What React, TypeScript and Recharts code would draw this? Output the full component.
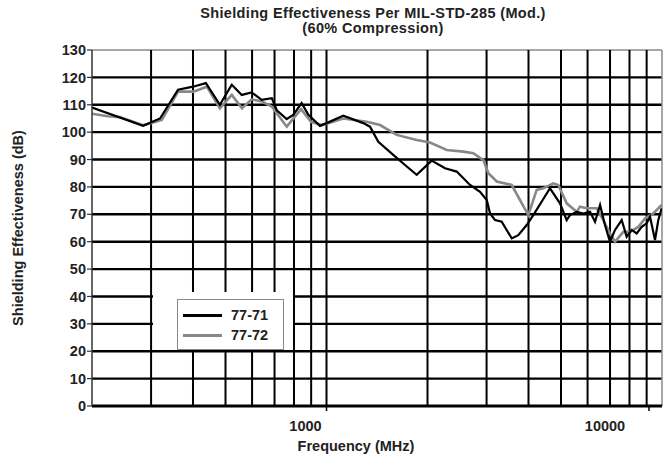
import React from 'react';
import { LineChart, Line, XAxis, YAxis, Legend, ReferenceLine } from 'recharts';

const freq7171 = [200, 284, 319, 361, 400, 437, 481, 522, 559, 598, 641, 687, 711, 761, 796, 843, 883, 956, 1001, 1122, 1287, 1348, 1427, 1581, 1714, 1857, 2058, 2256, 2444, 2678, 2868, 3004, 3073, 3180, 3329, 3565, 3730, 3951, 4134, 4636, 4965, 5198, 5318, 5569, 5829, 6102, 6315, 6537, 6761, 6998, 7244, 7584, 7848, 8121, 8405, 8699, 9003, 9211, 9531, 9750, 9977];
const se7171 = [109, 102.3, 105, 115.5, 116.6, 117.9, 110, 117.3, 113.6, 114.5, 111.8, 112.4, 108, 104.8, 106.3, 110.6, 106.3, 102.3, 103.3, 106, 103.3, 102, 96.5, 91.7, 88, 84.4, 89.6, 86.8, 85.6, 80.7, 78.2, 75.2, 70.3, 67.9, 67.3, 61.2, 62.4, 66.1, 69.7, 79.5, 74, 67.9, 69.7, 70.9, 70.3, 70.9, 67.3, 73.4, 66.1, 60, 64.3, 67.9, 61.8, 64.3, 63, 65.4, 66.7, 69.1, 60.6, 67.9, 72.2];

const freq7172 = [200, 223, 242, 284, 323, 361, 401, 440, 481, 522, 560, 598, 642, 688, 761, 840, 899, 970, 1122, 1318, 1444, 1619, 1857, 2035, 2282, 2558, 2739, 2934, 3037, 3217, 3565, 3995, 4232, 4428, 4743, 4908, 5198, 5569, 5696, 5966, 6388, 6683, 6998, 7244, 7668, 8028, 8499, 8900, 9420, 9977];
const se7172 = [106.7, 105.8, 105.5, 102.5, 104.5, 114.8, 114.8, 116.6, 108.7, 113.6, 108.7, 112, 111.2, 109.3, 102, 108.4, 103.8, 102.6, 105, 103.8, 102.6, 99, 97.1, 96.2, 93.5, 92.9, 92.3, 89.8, 85, 82, 80.7, 69.7, 78.9, 79.5, 81.3, 80.7, 74, 70.9, 72.8, 72.2, 72.2, 67.9, 63, 60, 63.6, 63.6, 65.4, 68.5, 70.3, 73.4];

const yTicks = [0, 10, 20, 30, 40, 50, 60, 70, 80, 90, 100, 110, 120, 130];
const xGridValues = [300, 400, 500, 600, 700, 800, 900, 1000, 2000, 3000, 4000, 5000, 6000, 7000, 8000, 9000];
const xLabelTicks = [1000, 10000];

const data71 = freq7171.map((f, i) => ({ f, v: se7171[i] }));
const data72 = freq7172.map((f, i) => ({ f, v: se7172[i] }));

const FONT = '"Liberation Sans", Arial, sans-serif';
const labelShift: Record<number, number> = { 1000: -21, 10000: -44 };

const XTick = (props: any) => {
  const { x, y, payload } = props;
  const shift = labelShift[payload.value] ?? 0;
  return (
    <g>
      <line x1={x} x2={x} y1={y} y2={y + 5} stroke="#000" strokeWidth={1.5} />
      <text x={x + shift} y={y + 25} textAnchor="middle" fontFamily={FONT} fontWeight="bold" fontSize={14.5} fill="#222">
        {payload.value}
      </text>
    </g>
  );
};

const YLabel = (props: any) => {
  const vb = props.viewBox;
  const cx = vb.x + 18;
  const cy = vb.y + vb.height / 2;
  return (
    <text x={cx} y={cy} transform={`rotate(-90 ${cx} ${cy})`} textAnchor="middle" dominantBaseline="central" fontFamily={FONT} fontWeight="bold" fontSize={14.5} fill="#222">
      Shielding Effectiveness (dB)
    </text>
  );
};

const XLabel = (props: any) => {
  const vb = props.viewBox;
  return (
    <text x={vb.x + vb.width / 2 - 21} y={vb.y + 45} textAnchor="middle" fontFamily={FONT} fontWeight="bold" fontSize={14.5} fill="#222">
      Frequency (MHz)
    </text>
  );
};

const renderLegend = (props: any) => {
  const payload = [...(props.payload || [])].sort((a: any, b: any) => String(a.value).localeCompare(String(b.value)));
  return (
    <div style={{ width: 140, height: 58, background: '#fff', position: 'relative' }}>
      <div style={{ position: 'absolute', left: 24, top: 7, width: 107, height: 51, border: '1px solid #888', boxSizing: 'border-box', background: '#fff' }}>
        {payload.map((p: any, i: number) => (
          <div key={p.value} style={{ position: 'absolute', left: 5, top: 6 + i * 20, height: 18, display: 'flex', alignItems: 'center' }}>
            <div style={{ width: 39, height: 0, borderTop: `3.5px solid ${p.color}` }} />
            <span style={{ marginLeft: 9, fontFamily: FONT, fontWeight: 'bold', fontSize: 14.5, color: '#222' }}>{p.value}</span>
          </div>
        ))}
      </div>
    </div>
  );
};

export default function App() {
  return (
    <div style={{ position: 'absolute', left: 0, top: 0, width: 669, height: 459, background: '#fff' }}>
      <div style={{ position: 'absolute', left: 73, top: 6, width: 600, textAlign: 'center', fontFamily: FONT, fontWeight: 'bold', fontSize: 14.5, lineHeight: '15px', letterSpacing: '0.35px', color: '#222' }}>
        <div>Shielding Effectiveness Per MIL-STD-285 (Mod.)</div>
        <div>(60% Compression)</div>
      </div>
      <LineChart width={669} height={459} margin={{ top: 50, right: 7, left: 0, bottom: 23 }}>
        <XAxis
          dataKey="f"
          type="number"
          scale="log"
          domain={[200, 10000]}
          allowDataOverflow
          ticks={xLabelTicks}
          tick={<XTick />}
          tickLine={false}
          tickSize={0}
          tickMargin={0}
          height={30}
          axisLine={{ stroke: '#000', strokeWidth: 3 }}
          label={XLabel}
        />
        <YAxis
          type="number"
          domain={[0, 130]}
          ticks={yTicks}
          width={92}
          tick={{ fontFamily: FONT, fontWeight: 'bold', fontSize: 14.5, fill: '#222' }}
          tickLine={{ stroke: '#333', strokeWidth: 1.2 }}
          tickSize={5}
          tickMargin={1}
          axisLine={{ stroke: '#333', strokeWidth: 1.5 }}
          label={YLabel}
        />
        {yTicks.filter((t) => t > 0 && t < 130).map((t) => (
          <ReferenceLine key={'h' + t} y={t} stroke="#000" strokeWidth={2.4} />
        ))}
        <ReferenceLine y={130} stroke="#8a8a8a" strokeWidth={1.5} />
        {xGridValues.map((t) => (
          <ReferenceLine key={'v' + t} x={t} stroke="#000" strokeWidth={2} />
        ))}
        <ReferenceLine x={10000} stroke="#8a8a8a" strokeWidth={1.5} />
        <Line data={data72} dataKey="v" name="77-72" type="linear" stroke="#888888" strokeWidth={2.6} dot={false} isAnimationActive={false} />
        <Line data={data71} dataKey="v" name="77-71" type="linear" stroke="#000000" strokeWidth={2.2} dot={false} isAnimationActive={false} />
        <Legend
          layout="vertical"
          verticalAlign="middle"
          align="center"
          content={renderLegend}
          wrapperStyle={{ position: 'absolute', left: 153, top: 292, width: 140, height: 58 }}
        />
      </LineChart>
    </div>
  );
}
